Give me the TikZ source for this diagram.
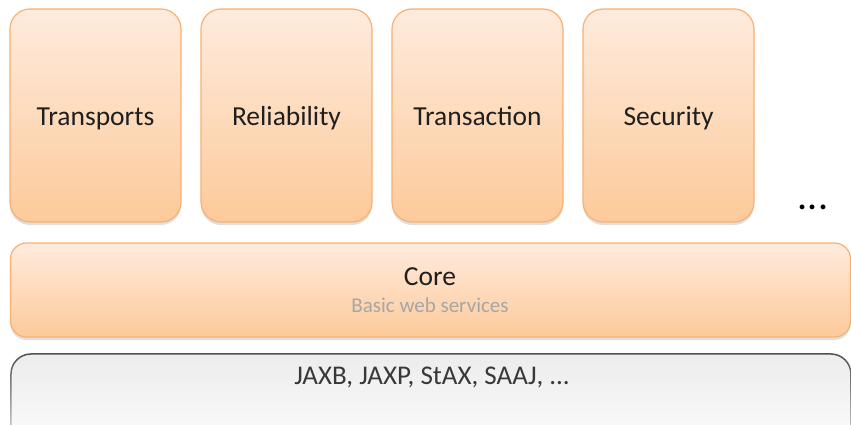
\documentclass[tikz,border=0pt]{standalone}
\usepackage{fontspec}
\setmainfont{Carlito}
\usetikzlibrary{shadows,fadings}
\definecolor{otop}{HTML}{FEEBDD}
\definecolor{obot}{HTML}{FDCA9A}
\definecolor{oline}{HTML}{F8B073}
\definecolor{gtop}{HTML}{ECECEC}
\definecolor{gline}{HTML}{505050}
\definecolor{txtgray}{HTML}{A6A6A6}
\tikzset{
  modbox/.style={rounded corners=20pt, draw=oline, line width=1.2pt,
    top color=otop, bottom color=obot,
    drop shadow={shadow xshift=0pt, shadow yshift=-3pt, opacity=0.25},
    minimum width=171pt, minimum height=213pt, inner sep=0pt},
  lbl/.style={font=\fontsize{27.5}{30}\selectfont, text=black!88, inner sep=0pt, anchor=base},
}
\begin{document}
\begin{tikzpicture}[x=1pt,y=-1pt]
\useasboundingbox (0,0) rectangle (851,425);
\begin{scope}
\clip (0,0) rectangle (851,425);
\node[modbox] (transports) at (95.5,115.5) {};
\node[modbox] (reliability) at (286.5,115.5) {};
\node[modbox] (transaction) at (477.5,115.5) {};
\node[modbox] (security) at (668.5,115.5) {};
\node[lbl] at (95.5,126) {Transports};
\node[lbl] at (286.5,126) {Reliability};
\node[lbl] at (477.5,126) {Transaction};
\node[lbl] at (668.5,126) {Security};
\node[font=\fontsize{40}{40}\selectfont, inner sep=0pt, text=black] (dots) at (813,207) {...};
\node[modbox, rounded corners=16pt, minimum width=840pt, minimum height=94pt] (core) at (430.5,290) {};
\node[lbl] (coretxt) at (430,285) {Core};
\node[font=\fontsize{21}{24}\selectfont, text=txtgray, inner sep=0pt] (coresub) at (430,305) {Basic web services};
\node[rounded corners=20pt, top color=gtop, bottom color=white, minimum width=840pt, minimum height=110pt, inner sep=0pt] (base) at (431,409) {};
\draw[gline, line width=1.5pt, rounded corners=20pt, path fading=south]
  (11,464) -- (11,354) -- (851,354) -- (851,464);
\node[font=\fontsize{27}{30}\selectfont, text=black!78, inner sep=0pt] (basetxt) at (432,377) {JAXB, JAXP, StAX, SAAJ, ...};
\end{scope}
\end{tikzpicture}
\end{document}
